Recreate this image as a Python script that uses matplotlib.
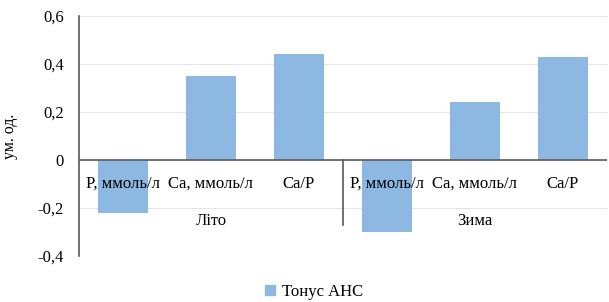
import numpy as np
import matplotlib
matplotlib.use("Agg")
import matplotlib.pyplot as plt
from matplotlib.patches import Patch

plt.rcParams['font.family'] = ['Liberation Serif', 'DejaVu Serif']

# data
categories = ['P, ммоль/л', 'Ca, ммоль/л', 'Ca/P', 'P, ммоль/л', 'Ca, ммоль/л', 'Ca/P']
groups = ['Літо', 'Зима']
values = [-0.22, 0.35, 0.44, -0.30, 0.24, 0.43]
series_name = 'Тонус АНС'
yticks = [-0.4, -0.2, 0, 0.2, 0.4, 0.6]
ytick_labels = ['-0,4', '-0,2', '0', '0,2', '0,4', '0,6']

bar_color = '#8DB8E2'
fs = 12

fig = plt.figure(figsize=(6.09, 3.02), dpi=100)
ax = fig.add_axes([0.1297, 0.1523, 0.867, 0.795])

x = np.arange(len(categories))
ax.bar(x, values, width=0.56, color=bar_color, zorder=3)

ax.set_xlim(-0.5, len(categories) - 0.5)
ax.set_ylim(-0.4, 0.6)
ax.set_yticks(yticks)
ax.set_yticklabels(ytick_labels, fontsize=fs)
ax.tick_params(axis='y', length=0, pad=11)
ax.set_xticks([])
ax.grid(axis='y', color='#e3e3e3', linewidth=0.8, zorder=0)

for s in ['top', 'right', 'bottom']:
    ax.spines[s].set_visible(False)
ax.spines['left'].set_color('#595959')
ax.spines['left'].set_linewidth(1.2)

# zero line acting as category axis
ax.axhline(0, color='#595959', linewidth=1.2, zorder=4)

# category labels just below zero line
for xi, lab in zip(x, categories):
    ax.annotate(lab, (xi, 0), xytext=(0, -17), textcoords='offset points',
                ha='center', va='center', fontsize=fs, zorder=5)

# group labels
n_per = len(categories) // len(groups)
for gi, g in enumerate(groups):
    cx = gi * n_per + (n_per - 1) / 2
    ax.annotate(g, (cx, 0), xytext=(0, -44), textcoords='offset points',
                ha='center', va='center', fontsize=fs, zorder=5)

# group separator
sep = n_per - 0.5
ax.plot([sep, sep], [0, -0.27], color='#595959', linewidth=1.2, zorder=4,
        clip_on=False)

ax.set_ylabel('ум. од.', fontsize=11.5)
ax.yaxis.set_label_coords(-0.115, 0.5)

fig.legend(handles=[Patch(color=bar_color, label=series_name)],
           loc='center', bbox_to_anchor=(0.516, 0.033), frameon=False,
           fontsize=fs, handlelength=0.6, handleheight=0.6, handletextpad=0.4)

fig.savefig('out.png', dpi=100)
